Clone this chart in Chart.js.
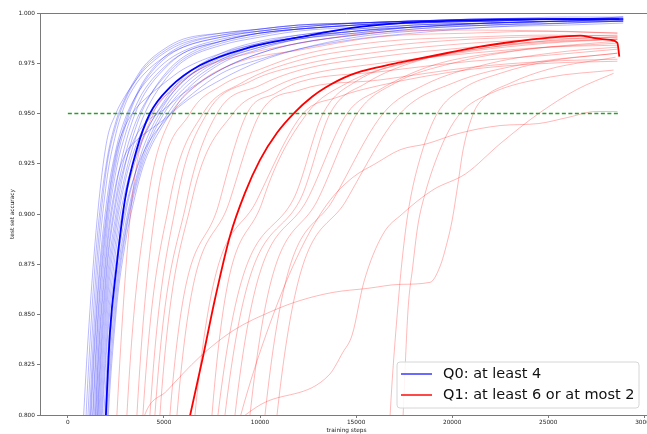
<!DOCTYPE html>
<html><head><meta charset="utf-8">
<script src="https://cdn.jsdelivr.net/npm/chart.js@4.4.1/dist/chart.umd.min.js"></script>
<style>
html,body{margin:0;padding:0;background:#fff;overflow:hidden;width:647px;height:434px;}
#wrap{position:absolute;left:0;top:0;width:662px;height:434px;}
</style></head><body>
<div id="wrap"><canvas id="c" width="662" height="434"></canvas></div>
<script>
// ---------- tick labels ----------
const X_TICKS = [0, 5000, 10000, 15000, 20000, 25000, 30000];
const Y_TICKS = [0.800, 0.825, 0.850, 0.875, 0.900, 0.925, 0.950, 0.975, 1.000];
const LABEL_Q0 = 'Q0: at least 4';
const LABEL_Q1 = 'Q1: at least 6 or at most 2';
const THRESHOLD = [[0, 0.95], [28700, 0.95]];

// ---------- Q0 (blue) runs, on a shared step grid ----------
const BLUE_STEPS = [500, 1000, 1500, 2000, 2500, 3000, 3500, 4000, 5000, 6000, 8000, 10000, 12000, 15000, 18000, 22000, 26000, 28900];
const blueRun01 = [0.74,0.83,0.895,0.935,0.950,0.959,0.966,0.972,0.980,0.985,0.989,0.991,0.993,0.995,0.996,0.997,0.997,0.997];
const blueRun02 = [0.70,0.81,0.885,0.925,0.946,0.958,0.967,0.974,0.982,0.987,0.990,0.992,0.994,0.995,0.996,0.997,0.997,0.998];
const blueRun03 = [0.66,0.79,0.875,0.922,0.944,0.957,0.966,0.973,0.981,0.986,0.990,0.992,0.994,0.995,0.996,0.997,0.998,0.998];
const blueRun04 = [0.62,0.77,0.865,0.915,0.940,0.955,0.964,0.970,0.978,0.983,0.988,0.991,0.993,0.995,0.996,0.997,0.997,0.997];
const blueRun05 = [0.60,0.76,0.855,0.905,0.932,0.948,0.958,0.965,0.975,0.981,0.987,0.990,0.992,0.994,0.996,0.996,0.997,0.997];
const blueRun06 = [0.58,0.75,0.850,0.900,0.930,0.944,0.952,0.957,0.965,0.972,0.980,0.985,0.988,0.991,0.993,0.995,0.996,0.996];
const blueRun07 = [0.55,0.73,0.840,0.897,0.928,0.946,0.958,0.967,0.978,0.984,0.989,0.992,0.994,0.995,0.996,0.997,0.997,0.998];
const blueRun08 = [0.52,0.72,0.835,0.893,0.925,0.944,0.957,0.966,0.977,0.983,0.988,0.991,0.993,0.995,0.996,0.997,0.997,0.997];
const blueRun09 = [0.50,0.70,0.825,0.888,0.921,0.940,0.953,0.962,0.973,0.980,0.986,0.990,0.992,0.994,0.995,0.996,0.997,0.997];
const blueRun10 = [0.48,0.68,0.815,0.882,0.915,0.930,0.936,0.940,0.947,0.956,0.970,0.977,0.982,0.987,0.990,0.993,0.994,0.995];
const blueRun11 = [0.46,0.67,0.810,0.878,0.913,0.935,0.950,0.960,0.972,0.980,0.986,0.990,0.992,0.994,0.995,0.996,0.997,0.997];
const blueRun12 = [0.44,0.65,0.800,0.872,0.908,0.930,0.945,0.955,0.968,0.977,0.985,0.989,0.992,0.994,0.995,0.996,0.997,0.997];
const blueRun13 = [0.42,0.63,0.790,0.868,0.905,0.926,0.938,0.945,0.952,0.960,0.972,0.980,0.985,0.989,0.992,0.994,0.995,0.996];
const blueRun14 = [0.40,0.62,0.785,0.862,0.900,0.925,0.942,0.954,0.969,0.978,0.986,0.990,0.992,0.994,0.996,0.996,0.997,0.997];
const blueRun15 = [0.38,0.60,0.775,0.856,0.896,0.920,0.937,0.950,0.966,0.976,0.984,0.988,0.991,0.993,0.995,0.996,0.997,0.997];
const blueRun16 = [0.36,0.58,0.765,0.850,0.892,0.917,0.933,0.944,0.958,0.967,0.977,0.983,0.987,0.990,0.993,0.995,0.996,0.996];
const blueRun17 = [0.34,0.56,0.755,0.843,0.887,0.912,0.928,0.940,0.955,0.966,0.978,0.984,0.988,0.991,0.994,0.995,0.996,0.997];
const blueRun18 = [0.32,0.54,0.745,0.836,0.882,0.908,0.926,0.939,0.956,0.968,0.980,0.986,0.989,0.992,0.994,0.995,0.996,0.997];
const blueRun19 = [0.30,0.52,0.735,0.830,0.876,0.903,0.920,0.932,0.946,0.955,0.967,0.976,0.982,0.988,0.991,0.993,0.995,0.996];
const blueRun20 = [0.28,0.50,0.720,0.820,0.870,0.900,0.920,0.935,0.954,0.966,0.979,0.985,0.989,0.992,0.994,0.995,0.996,0.997];
const blueRun21 = [0.26,0.48,0.700,0.810,0.865,0.895,0.916,0.932,0.952,0.964,0.977,0.984,0.988,0.991,0.993,0.995,0.996,0.997];
const blueRun22 = [0.24,0.45,0.680,0.800,0.860,0.892,0.914,0.930,0.950,0.962,0.976,0.983,0.987,0.991,0.993,0.995,0.996,0.996];
const blueRun23 = [0.22,0.42,0.660,0.790,0.855,0.890,0.912,0.928,0.947,0.960,0.975,0.982,0.987,0.990,0.993,0.994,0.996,0.996];
const blueRun24 = [0.20,0.40,0.640,0.780,0.850,0.886,0.909,0.926,0.945,0.958,0.972,0.980,0.985,0.989,0.992,0.994,0.995,0.996];
const BLUE_RUNS = [blueRun01,blueRun02,blueRun03,blueRun04,blueRun05,blueRun06,blueRun07,blueRun08,blueRun09,blueRun10,blueRun11,blueRun12,
                   blueRun13,blueRun14,blueRun15,blueRun16,blueRun17,blueRun18,blueRun19,blueRun20,blueRun21,blueRun22,blueRun23,blueRun24];

// Q0 mean curve: [step, accuracy]
const BLUE_MEAN = [[1500,0.70],[1980,0.80],[2190,0.841],[2535,0.874],[2970,0.907],[3580,0.932],[4270,0.950],[5310,0.963],[6880,0.974],[9480,0.983],[12080,0.988],[14690,0.9925],[17290,0.995],[21460,0.9965],[25000,0.997],[28700,0.997]];

// ---------- Q1 (red) runs: [step, accuracy] ----------
const redRun01 = [[2200,0.72],[2552,0.80],[3333,0.907],[4450,0.950],[5500,0.962],[6870,0.972],[9480,0.980],[12080,0.985],[16250,0.9905],[21500,0.9915],[28600,0.990]];
const redRun02 = [[2750,0.72],[3073,0.80],[4166,0.907],[5468,0.950],[6800,0.965],[9000,0.976],[12080,0.9816],[16250,0.9882],[21000,0.990],[25000,0.991],[28600,0.990]];
const redRun03 = [[3250,0.72],[3594,0.80],[4635,0.907],[6354,0.950],[8000,0.964],[10000,0.972],[12080,0.979],[16250,0.9857],[21000,0.988],[25000,0.989],[28600,0.9885]];
const redRun04 = [[3550,0.72],[3906,0.80],[5312,0.907],[7031,0.950],[9000,0.965],[12080,0.9766],[16250,0.9832],[21000,0.987],[28600,0.989]];
const redRun05 = [[3900,0.72],[4271,0.80],[5677,0.907],[7239,0.950],[9500,0.966],[12080,0.974],[16250,0.9807],[21000,0.985],[25000,0.987],[28600,0.988]];
const redRun06 = [[4150,0.72],[4531,0.80],[6198,0.907],[7760,0.950],[10000,0.964],[12080,0.9716],[16250,0.9783],[21000,0.983],[25000,0.986],[28600,0.987]];
const redRun07 = [[4400,0.72],[4791,0.80],[6458,0.907],[8593,0.950],[10500,0.962],[12080,0.9683],[16250,0.975],[21000,0.980],[25000,0.983],[28600,0.984]];
const redRun08 = [[4900,0.72],[5312,0.80],[7916,0.907],[9322,0.950],[10800,0.960],[12080,0.9658],[16250,0.9708],[21000,0.976],[25000,0.979],[28600,0.982]];
const redRun09 = [[5300,0.72],[5677,0.80],[8437,0.907],[10000,0.950],[12080,0.9617],[16250,0.9667],[21000,0.973],[25000,0.976],[28600,0.977]];
const redRun10 = [[6250,0.72],[6614,0.80],[9843,0.907],[12239,0.950],[14000,0.958],[16250,0.964],[21000,0.972],[25000,0.975],[28600,0.976]];
const redRun11 = [[7100,0.72],[7500,0.80],[10156,0.907],[12447,0.950],[14500,0.965],[17000,0.974],[21000,0.981],[25000,0.985],[28600,0.987]];
const redRun12 = [[7450,0.72],[7812,0.80],[11718,0.907],[13281,0.950],[15000,0.966],[18000,0.976],[22000,0.983],[26000,0.987],[28600,0.988]];
const redRun13 = [[7800,0.72],[8177,0.80],[12083,0.907],[13645,0.950],[15500,0.965],[18500,0.977],[22000,0.983],[26000,0.986],[28600,0.987]];
const redRun14 = [[8300,0.72],[8697,0.80],[12447,0.907],[14530,0.950],[16250,0.962],[19000,0.974],[23000,0.981],[28600,0.986]];
const redRun15 = [[9100,0.72],[9479,0.80],[13000,0.907],[15051,0.950],[17000,0.965],[20000,0.975],[24000,0.982],[28600,0.985]];
const redRun16 = [[9900,0.72],[10260,0.80],[13800,0.907],[16405,0.950],[18500,0.964],[22000,0.975],[26000,0.981],[28600,0.983]];
const redRun17 = [[10500,0.72],[10885,0.80],[14500,0.907],[17290,0.950],[20000,0.965],[24000,0.975],[28600,0.980]];
const redRun18 = [[16300,0.70],[16770,0.80],[17200,0.857],[17450,0.882],[17750,0.9035],[18400,0.930],[19218,0.950],[20500,0.962],[22500,0.970],[25000,0.976],[28600,0.980]];
const redRun19 = [[17000,0.70],[17447,0.80],[17700,0.852],[17950,0.874],[18200,0.8935],[18500,0.907],[19500,0.935],[20416,0.950],[22000,0.960],[25000,0.968],[28400,0.9716]];
const redRun20 = [[3500,0.78],[4000,0.80],[5150,0.812],[6875,0.829],[8600,0.842],[10700,0.852],[12100,0.857],[13800,0.861],[15600,0.863],[17300,0.865],[18850,0.866],[19370,0.874],[19740,0.886],[20000,0.897],[20300,0.915],[20570,0.932],[21100,0.950],[21560,0.957],[23000,0.965],[25000,0.972],[28500,0.978]];
const redRun21 = [[8000,0.76],[9000,0.80],[10500,0.845],[12100,0.882],[13500,0.905],[14800,0.918],[16000,0.925],[17300,0.932],[18700,0.935],[20300,0.940],[22500,0.944],[24500,0.945],[26000,0.948],[27500,0.951],[28600,0.951]];
const redRun22 = [[7900,0.79],[10000,0.805],[13600,0.820],[14300,0.831],[14800,0.840],[15400,0.866],[16400,0.890],[17400,0.900],[19000,0.912],[20700,0.920],[22500,0.935],[24500,0.950],[26500,0.962],[28400,0.970]];
const RED_RUNS = [redRun01,redRun02,redRun03,redRun04,redRun05,redRun06,redRun07,redRun08,redRun09,redRun10,redRun11,
                  redRun12,redRun13,redRun14,redRun15,redRun16,redRun17,redRun18,redRun19,redRun20,redRun21,redRun22];

// Q1 mean curve
const RED_MEAN = [[5500,0.765],[6354,0.7995],[7031,0.829],[7656,0.8577],[8437,0.8891],[9218,0.9105],[10000,0.9269],[10885,0.9404],[11822,0.9507],[12708,0.9583],[13385,0.9628],[14687,0.9691],[16406,0.9736],[17291,0.9754],[19739,0.9801],[21458,0.9833],[23177,0.9857],[24948,0.9876],[26666,0.9887],[27343,0.9876],[28228,0.9866],[28593,0.9852],[28697,0.9783]];

// ---------- build datasets ----------
const toXY = pairs => pairs.map(p => ({x: p[0], y: p[1]}));
const datasets = [];
datasets.push({label: LABEL_Q1, data: toXY(RED_MEAN), borderColor: 'rgba(255,0,0,1)', borderWidth: 1.8, order: 0, legendColor: 'rgba(255,0,0,0.8)'});
datasets.push({label: LABEL_Q0, data: toXY(BLUE_MEAN), borderColor: 'rgba(0,0,255,1)', borderWidth: 1.8, order: 1, legendColor: 'rgba(0,0,255,0.65)'});
datasets.push({label: 'threshold', data: toXY(THRESHOLD), borderColor: 'rgb(40,160,40)', borderWidth: 1.3, borderDash: [4, 2.5], order: 2, tension: 0});
RED_RUNS.forEach((r, i) => datasets.push({label: 'q1 run ' + (i+1), data: toXY(r), borderColor: 'rgba(255,0,0,0.28)', borderWidth: 1, order: 3}));
BLUE_RUNS.forEach((r, i) => datasets.push({label: 'q0 run ' + (i+1), data: r.map((v, j) => ({x: BLUE_STEPS[j], y: v})), borderColor: 'rgba(0,0,255,0.28)', borderWidth: 1, order: 4}));
datasets.forEach(d => { d.pointRadius = 0; d.fill = false; if (d.tension === undefined) d.cubicInterpolationMode = 'monotone'; });

const AXIS_COLOR = '#7a7a7a';
const TICK_FONT = {family: '"DejaVu Sans", sans-serif', size: 5.8};

const frameAndLegend = {
  id: 'frameAndLegend',
  afterDraw(chart) {
    const ctx = chart.ctx, ca = chart.chartArea;
    ctx.save();
    ctx.strokeStyle = AXIS_COLOR; ctx.lineWidth = 1;
    ctx.beginPath(); ctx.moveTo(ca.left, ca.top + 0.5); ctx.lineTo(ca.right, ca.top + 0.5); ctx.stroke();
    ctx.beginPath(); ctx.moveTo(ca.right - 0.5, ca.top); ctx.lineTo(ca.right - 0.5, ca.bottom); ctx.stroke();
    const items = chart.data.datasets.filter(d => d.legendColor).sort((a, b) => b.order - a.order);
    const bx = ca.right - 256, by = ca.bottom - 53, bw = 242, bh = 46, r = 3;
    ctx.fillStyle = 'rgba(255,255,255,0.85)';
    ctx.strokeStyle = '#d6d6d6'; ctx.lineWidth = 1;
    ctx.beginPath();
    ctx.moveTo(bx + r, by); ctx.lineTo(bx + bw - r, by); ctx.arcTo(bx + bw, by, bx + bw, by + r, r);
    ctx.lineTo(bx + bw, by + bh - r); ctx.arcTo(bx + bw, by + bh, bx + bw - r, by + bh, r);
    ctx.lineTo(bx + r, by + bh); ctx.arcTo(bx, by + bh, bx, by + bh - r, r);
    ctx.lineTo(bx, by + r); ctx.arcTo(bx, by, bx + r, by, r); ctx.closePath();
    ctx.fill(); ctx.stroke();
    ctx.font = '14.5px "DejaVu Sans", sans-serif';
    ctx.textBaseline = 'middle';
    items.forEach((d, i) => {
      const y = by + 12 + i * 21;
      ctx.strokeStyle = d.legendColor; ctx.lineWidth = 1.8;
      ctx.beginPath(); ctx.moveTo(bx + 4, y); ctx.lineTo(bx + 35, y); ctx.stroke();
      ctx.fillStyle = '#111';
      ctx.fillText(d.label, bx + 46, y + 0.5);
    });
    ctx.restore();
  }
};

new Chart(document.getElementById('c'), {
  type: 'line',
  data: {datasets},
  plugins: [frameAndLegend],
  options: {
    responsive: false, animation: false, devicePixelRatio: 1,
    layout: {padding: {top: 13, right: 9, left: 0, bottom: 0}},
    plugins: {legend: {display: false}, tooltip: {enabled: false}},
    scales: {
      x: {
        type: 'linear', min: -1450, max: 30450,
        afterBuildTicks: ax => { ax.ticks = X_TICKS.map(v => ({value: v})); },
        afterFit: s => { s.height = 19; },
        ticks: {font: TICK_FONT, color: '#222', padding: 1, maxRotation: 0, autoSkip: false, callback: v => String(v)},
        grid: {display: true, drawOnChartArea: false, drawTicks: true, tickLength: 3, tickColor: AXIS_COLOR},
        border: {display: true, color: AXIS_COLOR, width: 1},
        title: {display: true, text: 'training steps', font: TICK_FONT, color: '#222', padding: {top: 0, bottom: 0}}
      },
      y: {
        type: 'linear', min: 0.8, max: 1.0,
        afterBuildTicks: ax => { ax.ticks = Y_TICKS.map(v => ({value: v})); },
        afterFit: s => { s.width = 40; },
        ticks: {font: TICK_FONT, color: '#222', padding: 2, autoSkip: false, callback: v => Number(v).toFixed(3)},
        grid: {display: true, drawOnChartArea: false, drawTicks: true, tickLength: 3, tickColor: AXIS_COLOR},
        border: {display: true, color: AXIS_COLOR, width: 1},
        title: {display: true, text: 'test set accuracy', font: TICK_FONT, color: '#222', padding: {top: 9, bottom: 0}}
      }
    }
  }
});
</script>
</body></html>
